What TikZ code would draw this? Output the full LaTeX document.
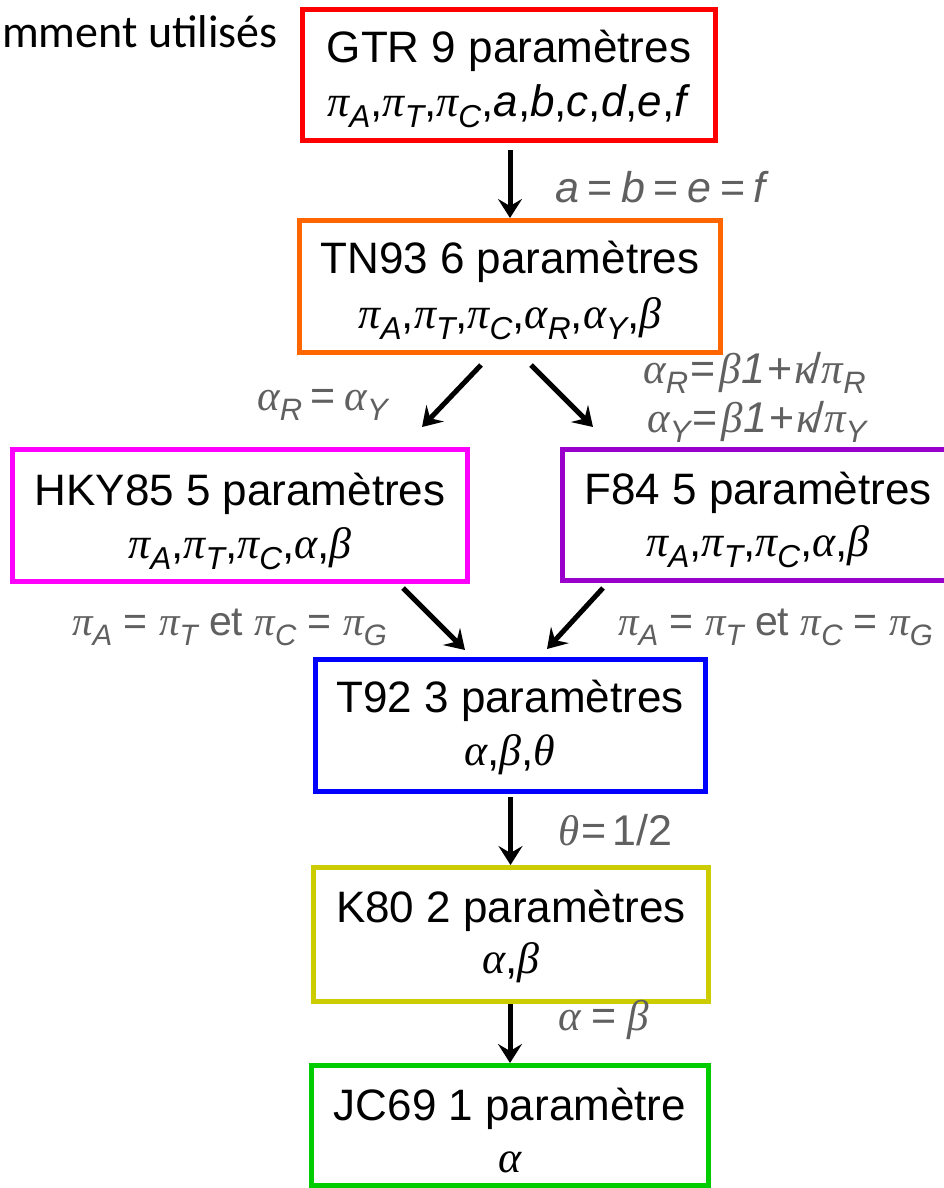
\documentclass[tikz,border=0pt]{standalone}
\usepackage{fontspec}
\usepackage{graphicx}
\setmainfont{Liberation Sans}
\newfontfamily\gkf{Liberation Serif}
\newfontfamily\calf{Carlito}
\usetikzlibrary{arrows.meta,calc}
\definecolor{lblc}{HTML}{606060}
\definecolor{cred}{HTML}{FF0000}
\definecolor{corange}{HTML}{FF6600}
\definecolor{cmag}{HTML}{FF00FF}
\definecolor{cpurp}{HTML}{9900CC}
\definecolor{cblue}{HTML}{0000FF}
\definecolor{colive}{HTML}{CCCC00}
\definecolor{cgreen}{HTML}{00CC00}
\newcommand\gr[1]{{\gkf\itshape #1}}
\newcommand\sbx[1]{\raisebox{-0.25em}{\scalebox{0.72}{\itshape #1}}}
\newcommand\eqs{\kern0.2em=\kern0.2em}
\tikzset{
  mbox/.style={draw, line width=5pt, fill=none, inner sep=0pt, outer sep=2.5pt},
  boxt/.style={font=\fontsize{44}{48}\selectfont, anchor=base, inner sep=0pt, text=black},
  lbl/.style={font=\fontsize{43}{46}\selectfont, text=lblc, anchor=base west, inner sep=0pt},
  arr/.style={line width=5pt, draw=black, -{Stealth[length=19pt,width=24pt,inset=7pt]}}
}
\begin{document}
\begin{tikzpicture}[x=1pt,y=-1pt]
\useasboundingbox (0,0) rectangle (944,1188);
\clip (0,0) rectangle (944,1188);
\fill[white] (0,0) rectangle (944,1188);

% title fragment
\node[font=\calf\fontsize{46}{50}\selectfont, anchor=base east, inner sep=0pt] (title) at (278,48) {mment utilisés};

% boxes
\node[mbox, draw=cred, minimum width=413pt, minimum height=131pt] (gtr) at (509,75) {};
\node[mbox, draw=corange, minimum width=421pt, minimum height=132pt] (tn) at (510,286.5) {};
\node[mbox, draw=cmag, minimum width=455pt, minimum height=132pt] (hky) at (240,515.5) {};
\node[mbox, draw=cpurp, minimum width=393pt, minimum height=131pt] (f84) at (759,515) {};
\node[mbox, draw=cblue, minimum width=390pt, minimum height=132pt] (t92) at (510.5,725.5) {};
\node[mbox, draw=colive, minimum width=395pt, minimum height=134pt] (k80) at (511,934.5) {};
\node[mbox, draw=cgreen, minimum width=397pt, minimum height=120pt] (jc) at (510,1125.5) {};

% box texts
\node[boxt] (gtr1) at (509,63) {GTR 9 paramètres};
\node[boxt] (gtr2) at (509,117) {\gr{π}\sbx{A},\gr{π}\sbx{T},\gr{π}\sbx{C},\textit{a},\textit{b},\textit{c},\textit{d},\textit{e},\textit{f}};
\node[boxt] (tn1) at (510,273) {TN93 6 paramètres};
\node[boxt] (tn2) at (510,328) {\gr{π}\sbx{A},\gr{π}\sbx{T},\gr{π}\sbx{C},\gr{α}\sbx{R},\gr{α}\sbx{Y},\gr{β}};
\node[boxt] (hky1) at (240,505) {HKY85 5 paramètres};
\node[boxt] (hky2) at (240,558) {\gr{π}\sbx{A},\gr{π}\sbx{T},\gr{π}\sbx{C},\gr{α},\gr{β}};
\node[boxt] (f841) at (758,504) {F84 5 paramètres};
\node[boxt] (f842) at (758,556) {\gr{π}\sbx{A},\gr{π}\sbx{T},\gr{π}\sbx{C},\gr{α},\gr{β}};
\node[boxt] (t921) at (510,712) {T92 3 paramètres};
\node[boxt] (t922) at (510,765) {\gr{α},\gr{β},\gr{θ}};
\node[boxt] (k801) at (511,922) {K80 2 paramètres};
\node[boxt] (k802) at (511,973) {\gr{α},\gr{β}};
\node[boxt] (jc1) at (510,1120) {JC69 1 paramètre};
\node[boxt] (jc2) at (510,1172) {\gr{α}};

% arrows
\draw[arr] ($(gtr.south)+(1,7)$) -- (tn.north);
\draw[arr] ($(tn.south)+(-29,10)$) -- ($(hky.north)+(182,-20)$);
\draw[arr] ($(tn.south)+(21,10)$) -- ($(f84.north)+(-166,-20)$);
\draw[arr] ($(hky.south)+(163,4)$) -- ($(t92.north)+(-45.5,-7)$);
\draw[arr] ($(f84.south)+(-156,5)$) -- ($(t92.north)+(36.5,-8)$);
\draw[arr] ($(t92.south)+(0,3)$) -- (t92.south |- k80.north);
\draw[arr] (k80.south -| jc.north) -- (jc.north);

% labels
\node[lbl] (l1) at (555,202) {\textit{a}\eqs\textit{b}\eqs\textit{e}\eqs\textit{f}};
\node[lbl] (l2) at (257,410) {\gr{α}\sbx{R}\eqs\gr{α}\sbx{Y}};
\node[lbl] (l3) at (643,383) {\gr{α}\sbx{R}\kern0.05em=\kern0.1em\gr{β}\textit{1}\kern0.05em+\kern0.05em\gr{κ}\kern-0.12em/\gr{π}\sbx{R}};
\node[lbl] (l4) at (647,432) {\gr{α}\sbx{Y}\kern0.05em=\kern0.1em\gr{β}\textit{1}\kern0.05em+\kern0.05em\gr{κ}\kern-0.12em/\gr{π}\sbx{Y}};
\node[lbl, font=\fontsize{41}{46}\selectfont] (l5) at (72,635) {\gr{π}\sbx{A} = \gr{π}\sbx{T} et \gr{π}\sbx{C} = \gr{π}\sbx{G}};
\node[lbl, font=\fontsize{41}{46}\selectfont] (l6) at (618,635) {\gr{π}\sbx{A} = \gr{π}\sbx{T} et \gr{π}\sbx{C} = \gr{π}\sbx{G}};
\node[lbl] (l7) at (558,845) {\gr{θ}\kern0.05em=\kern0.15em 1/2};
\node[lbl] (l8) at (558,1030) {\gr{α}\kern0.25em=\kern0.25em\gr{β}};
\end{tikzpicture}
\end{document}
